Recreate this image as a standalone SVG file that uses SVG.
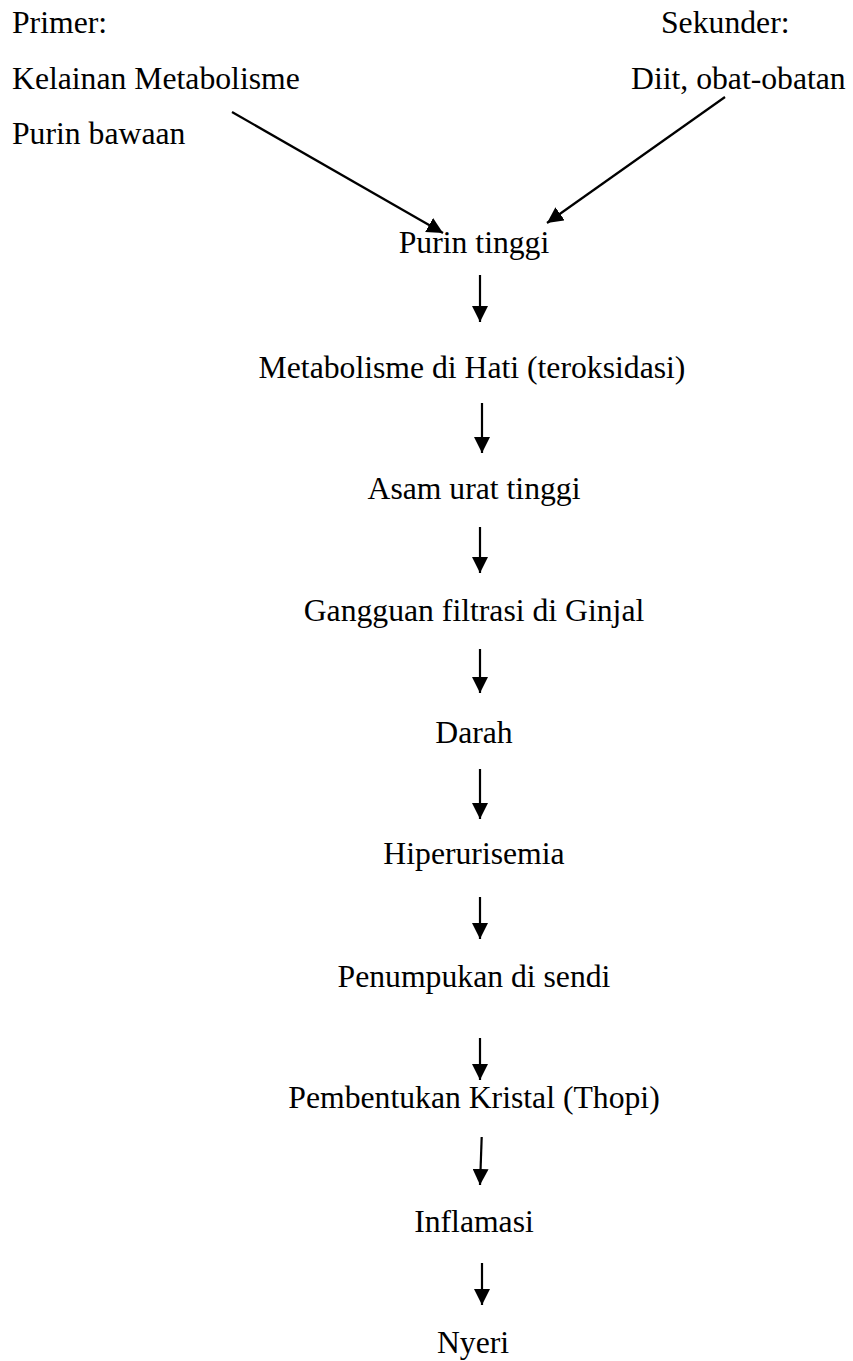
<svg xmlns="http://www.w3.org/2000/svg" width="853" height="1361" viewBox="0 0 853 1361">
<style>
text{font-family:"Liberation Serif","Times New Roman",serif;font-size:31.7px;fill:#000}
.c{text-anchor:middle}
.ln{stroke:#000;stroke-width:2.2;fill:none}
</style>
<defs>
<marker id="ah" markerUnits="userSpaceOnUse" markerWidth="16" markerHeight="16" refX="16" refY="8" orient="auto" viewBox="0 0 16 16">
<path d="M0,0 L16,8 L0,16 z" fill="#000"/>
</marker>
</defs>
<rect width="853" height="1361" fill="#fff"/>
<g id="primer"><text x="12" y="33">Primer:</text><text x="12" y="89">Kelainan Metabolisme</text><text x="12" y="144">Purin bawaan</text></g>
<g id="sekunder"><text x="661" y="33">Sekunder:</text><text x="631" y="89">Diit, obat-obatan</text></g>
<g id="n1"><text class="c" x="474" y="253">Purin tinggi</text></g>
<g id="n2"><text class="c" x="472" y="378">Metabolisme di Hati (teroksidasi)</text></g>
<g id="n3"><text class="c" x="474" y="499">Asam urat tinggi</text></g>
<g id="n4"><text class="c" x="474" y="621">Gangguan filtrasi di Ginjal</text></g>
<g id="n5"><text class="c" x="474" y="743">Darah</text></g>
<g id="n6"><text class="c" x="474" y="864">Hiperurisemia</text></g>
<g id="n7"><text class="c" x="474" y="987">Penumpukan di sendi</text></g>
<g id="n8"><text class="c" x="474" y="1108">Pembentukan Kristal (Thopi)</text></g>
<g id="n9"><text class="c" x="474" y="1232">Inflamasi</text></g>
<g id="n10"><text class="c" x="473" y="1353">Nyeri</text></g>
<g id="connectors" class="ln" marker-end="url(#ah)">
<line class="ln" x1="232" y1="112" x2="443" y2="233" marker-end="url(#ah)"/>
<line class="ln" x1="725" y1="97" x2="547" y2="223" marker-end="url(#ah)"/>
<line class="ln" x1="480" y1="275" x2="480" y2="322" marker-end="url(#ah)"/>
<line class="ln" x1="482" y1="403" x2="482" y2="453" marker-end="url(#ah)"/>
<line class="ln" x1="480" y1="527" x2="480" y2="573" marker-end="url(#ah)"/>
<line class="ln" x1="480" y1="649" x2="480" y2="693" marker-end="url(#ah)"/>
<line class="ln" x1="480" y1="769" x2="480" y2="819" marker-end="url(#ah)"/>
<line class="ln" x1="480" y1="897" x2="480" y2="939" marker-end="url(#ah)"/>
<line class="ln" x1="480" y1="1038" x2="480" y2="1080" marker-end="url(#ah)"/>
<line class="ln" x1="481.7" y1="1137" x2="480" y2="1185" marker-end="url(#ah)"/>
<line class="ln" x1="482" y1="1263" x2="482" y2="1305" marker-end="url(#ah)"/>
</g>
</svg>
